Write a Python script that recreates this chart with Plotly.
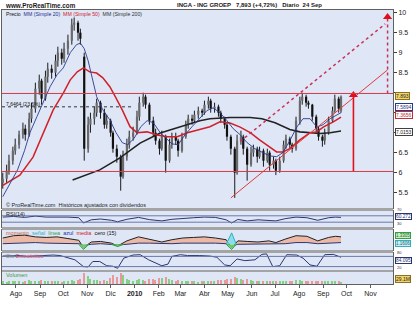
import plotly.graph_objects as go
import pandas as pd

FONT = "Liberation Sans, Arial, sans-serif"

# ---------------- price data (one candle every 3 trading days) ----------------
opens = [
    5.75, 5.85, 6.05, 6.30, 6.55, 6.70, 6.95, 7.10, 6.95, 7.35,
    7.60, 8.10, 8.30, 7.85, 8.40, 8.60, 8.50, 8.80, 9.00, 8.85,
    9.10, 9.30, 9.70, 9.75, 9.50, 8.90, 6.60, 7.20, 7.35, 7.50,
    7.75, 7.50, 7.20, 7.30, 7.00, 6.60, 6.40, 5.90, 6.40, 6.70,
    6.90, 7.00, 7.40, 7.75, 7.90, 7.70, 7.30, 7.00, 6.80, 6.60,
    6.90, 6.30, 6.70, 6.90, 6.80, 6.55, 6.90, 7.20, 7.35, 7.30,
    7.45, 7.55, 7.50, 7.70, 7.80, 7.60, 7.65, 7.50, 7.35, 7.20,
    6.90, 6.60, 6.00, 6.80, 6.90, 6.60, 6.20, 6.50, 6.60, 6.40,
    6.55, 6.30, 6.50, 6.20, 6.30, 6.05, 6.30, 6.70, 6.85, 6.70,
    6.60, 7.30, 7.80, 7.90, 7.75, 7.70, 7.40, 7.10, 6.90, 6.80,
    7.00, 7.30, 7.55, 7.85, 7.55]
highs = [
    6.00, 6.20, 6.45, 6.65, 6.85, 7.05, 7.25, 7.20, 7.50, 7.75,
    8.25, 8.45, 8.35, 8.55, 8.75, 8.70, 8.95, 9.15, 9.10, 9.25,
    9.45, 9.85, 9.88, 9.80, 9.60, 9.00, 7.40, 7.50, 7.65, 7.85,
    7.80, 7.60, 7.45, 7.35, 7.05, 6.70, 6.45, 6.55, 6.85, 7.05,
    7.15, 7.55, 7.90, 8.00, 7.95, 7.75, 7.40, 7.10, 6.85, 7.05,
    6.95, 6.85, 7.00, 7.00, 6.85, 7.00, 7.30, 7.45, 7.45, 7.55,
    7.65, 7.60, 7.80, 7.90, 7.85, 7.75, 7.70, 7.55, 7.40, 7.25,
    6.95, 6.65, 6.95, 7.05, 6.95, 6.65, 6.65, 6.70, 6.65, 6.65,
    6.60, 6.60, 6.55, 6.40, 6.35, 6.40, 6.80, 6.95, 6.90, 6.75,
    7.40, 7.90, 8.00, 7.95, 7.80, 7.72, 7.45, 7.15, 6.95, 7.10,
    7.40, 7.65, 7.95, 7.90, 7.93]
lows = [
    5.60, 5.75, 5.95, 6.20, 6.45, 6.60, 6.85, 6.80, 6.90, 7.25,
    7.50, 7.95, 7.70, 7.80, 8.25, 8.35, 8.40, 8.65, 8.70, 8.75,
    8.95, 9.20, 9.55, 9.30, 9.20, 6.30, 6.50, 7.00, 7.20, 7.40,
    7.35, 7.10, 7.10, 6.90, 6.50, 6.25, 5.55, 5.85, 6.30, 6.60,
    6.80, 6.95, 7.30, 7.65, 7.60, 7.20, 6.90, 6.70, 6.45, 6.55,
    6.00, 6.25, 6.60, 6.70, 6.40, 6.50, 6.85, 7.10, 7.20, 7.25,
    7.35, 7.40, 7.45, 7.60, 7.50, 7.50, 7.40, 7.25, 7.10, 6.80,
    6.45, 5.37, 5.95, 6.70, 6.45, 5.80, 6.15, 6.40, 6.25, 6.35,
    6.15, 6.25, 6.05, 6.10, 5.94, 6.00, 6.25, 6.60, 6.60, 6.50,
    6.55, 7.20, 7.70, 7.65, 7.60, 7.30, 7.00, 6.80, 6.65, 6.70,
    6.95, 7.25, 7.50, 7.50, 7.50]
closes = [
    5.85, 6.05, 6.30, 6.55, 6.70, 6.95, 7.10, 6.95, 7.35, 7.60,
    8.10, 8.30, 7.85, 8.40, 8.60, 8.50, 8.80, 9.00, 8.85, 9.10,
    9.30, 9.70, 9.75, 9.50, 9.35, 6.60, 7.20, 7.35, 7.50, 7.75,
    7.50, 7.20, 7.30, 7.00, 6.60, 6.40, 5.90, 6.40, 6.70, 6.90,
    7.00, 7.40, 7.75, 7.90, 7.70, 7.30, 7.00, 6.80, 6.60, 6.90,
    6.30, 6.70, 6.90, 6.80, 6.55, 6.90, 7.20, 7.35, 7.30, 7.45,
    7.55, 7.50, 7.70, 7.80, 7.60, 7.65, 7.50, 7.35, 7.20, 6.90,
    6.60, 6.00, 6.80, 6.90, 6.60, 6.20, 6.50, 6.60, 6.40, 6.55,
    6.30, 6.50, 6.20, 6.30, 6.05, 6.30, 6.70, 6.85, 6.70, 6.60,
    7.30, 7.80, 7.90, 7.75, 7.70, 7.40, 7.10, 6.90, 6.80, 7.00,
    7.30, 7.55, 7.85, 7.60, 7.893]
volumes_m = [
    40, 35, 45, 38, 42, 50, 36, 40, 55, 48,
    52, 45, 60, 42, 38, 44, 40, 47, 35, 39,
    42, 55, 48, 60, 70, 170, 120, 80, 60, 55,
    50, 65, 45, 90, 130, 110, 160, 140, 70, 60,
    45, 55, 70, 65, 50, 75, 80, 60, 90, 85,
    100, 70, 55, 45, 60, 50, 40, 45, 38, 42,
    35, 40, 45, 38, 40, 48, 55, 60, 65, 70,
    80, 110, 85, 70, 65, 75, 55, 50, 48, 45,
    50, 42, 48, 40, 45, 38, 50, 45, 40, 42,
    60, 55, 50, 45, 40, 42, 48, 52, 45, 40,
    38, 42, 45, 40, 29.1]

# ---------------- moving averages ----------------
sma20_dates = ['2009-07-15','2009-07-24','2009-08-03','2009-08-12','2009-08-19','2009-08-28','2009-09-05',
               '2009-09-14','2009-09-23','2009-10-01','2009-10-10','2009-10-18','2009-10-23','2009-10-28',
               '2009-11-02','2009-11-08','2009-11-13','2009-11-21','2009-11-30','2009-12-08','2009-12-16',
               '2009-12-23','2009-12-31','2010-01-09','2010-01-17','2010-01-25','2010-02-03','2010-02-11',
               '2010-02-18','2010-02-26','2010-03-07','2010-03-16','2010-03-26','2010-04-04','2010-04-12',
               '2010-04-21','2010-04-30','2010-05-08','2010-05-17','2010-05-26','2010-06-05','2010-06-15',
               '2010-06-24','2010-07-03','2010-07-11','2010-07-20','2010-07-29','2010-08-06','2010-08-15',
               '2010-08-24','2010-09-01','2010-09-10','2010-09-24']
sma20 = [5.40, 5.70, 6.07, 6.55, 7.00, 7.40, 7.74, 8.15, 8.45, 8.62, 9.00, 9.20, 9.24, 9.10,
         8.80, 8.32, 7.90, 7.57, 7.32, 7.00, 6.75, 6.70, 6.85, 7.15, 7.30, 7.25, 7.00, 6.85,
         6.72, 6.70, 6.95, 7.15, 7.35, 7.55, 7.62, 7.50, 7.30, 7.10, 6.95, 6.75, 6.60, 6.50,
         6.42, 6.40, 6.50, 6.80, 7.14, 7.35, 7.35, 7.14, 7.20, 7.35, 7.50]

sma50_dates = ['2009-07-15','2009-08-06','2009-08-23','2009-09-05','2009-09-18','2009-10-01','2009-10-10',
               '2009-10-19','2009-10-27','2009-11-04','2009-11-13','2009-11-21','2009-11-30','2009-12-07',
               '2009-12-16','2009-12-26','2010-01-04','2010-01-17','2010-01-30','2010-02-12','2010-02-25',
               '2010-03-10','2010-03-26','2010-04-08','2010-04-21','2010-05-04','2010-05-17','2010-05-30',
               '2010-06-11','2010-06-24','2010-07-03','2010-07-11','2010-07-20','2010-08-02','2010-08-15',
               '2010-08-24','2010-09-01','2010-09-14','2010-09-24']
sma50 = [5.68, 5.94, 6.39, 6.99, 7.57, 7.99, 8.32, 8.52, 8.62, 8.52, 8.49, 8.37, 8.15, 7.90,
         7.57, 7.15, 7.00, 7.02, 6.94, 6.90, 6.90, 7.00, 7.08, 7.15, 7.27, 7.24, 7.14, 7.00,
         6.82, 6.65, 6.52, 6.52, 6.60, 6.82, 7.00, 7.02, 7.14, 7.27, 7.39]

sma200_dates = ['2009-10-13','2009-10-30','2009-11-17','2009-12-13','2010-01-08','2010-02-03','2010-03-01',
                '2010-03-26','2010-04-08','2010-05-04','2010-05-30','2010-06-14','2010-07-01','2010-07-20',
                '2010-08-02','2010-08-28','2010-09-10','2010-09-24']
sma200 = [5.82, 5.95, 6.07, 6.37, 6.74, 6.99, 7.15, 7.30, 7.35, 7.38, 7.38, 7.35, 7.25, 7.08,
          7.02, 6.98, 7.00, 7.04]

# ---------------- drawn levels ----------------
resistance = 7.98
support = 6.03
target = 9.93
fib_level = 7.6464
fib_end = '2009-12-30'
trend_dates = ['2010-05-05', '2010-11-23']
trend_vals = [5.37, 8.57]
channel_dates = ['2010-05-17', '2010-11-20']
channel_vals = [6.78, 9.72]
arrow_date = '2010-10-10'
target_date = '2010-11-23'

# ---------------- indicators ----------------
ind_dates = ['2009-07-15','2009-07-29','2009-08-12','2009-08-26','2009-09-09','2009-09-23','2009-10-07',
             '2009-10-21','2009-10-27','2009-11-06','2009-11-18','2009-12-02','2009-12-10','2009-12-22',
             '2010-01-06','2010-01-20','2010-02-05','2010-02-18','2010-03-04','2010-03-18','2010-04-01',
             '2010-04-15','2010-04-29','2010-05-06','2010-05-14','2010-05-26','2010-06-09','2010-06-23',
             '2010-07-02','2010-07-14','2010-07-28','2010-08-11','2010-08-25','2010-09-08','2010-09-17',
             '2010-09-24']
rsi = [62, 66, 60, 68, 62, 64, 62, 58, 25, 45, 50, 42, 33, 48, 60, 46, 38, 48, 55, 58, 62,
       60, 45, 25, 47, 38, 45, 42, 38, 52, 62, 58, 42, 58, 62, 60.27]
osc_line = [1.1, 1.5, 1.6, 1.3, 1.2, 1.3, 1.0, 0.7, -0.6, 0.4, 0.5, 0.2, -0.3, 0.6, 1.3,
            0.9, 0.4, 0.8, 1.1, 1.2, 1.3, 1.1, 0.8, -0.6, 0.6, 0.5, 0.4, 0.6, 0.3, 0.9,
            1.5, 1.4, 0.6, 1.2, 1.4, 1.3]
osc_base = [0.1, 0.2, 0.3, 0.3, 0.2, 0.2, 0.2, 0.1, -0.2, 0.0, 0.1, 0.0, -0.1, 0.0, 0.2,
            0.2, 0.1, 0.1, 0.2, 0.2, 0.3, 0.2, 0.1, -0.3, 0.0, 0.0, 0.0, 0.1, 0.0, 0.1,
            0.3, 0.3, 0.1, 0.2, 0.3, 0.3]
green_dates = ['2009-10-21', '2009-10-27', '2009-11-03', None, '2009-12-02', '2009-12-10', '2009-12-18',
               None, '2010-04-29', '2010-05-06', '2010-05-12']
green_vals = [0, -0.9, 0, None, 0, -0.4, 0, None, 0, -0.9, 0]
cyan_dates = ['2010-04-29', '2010-05-06', '2010-05-12']
cyan_vals = [0, 2.0, 0]

stoch_dates = ['2009-07-15','2009-07-24','2009-08-06','2009-08-15','2009-08-26','2009-09-08','2009-09-18',
               '2009-09-27','2009-10-06','2009-10-16','2009-10-27','2009-11-02','2009-11-08','2009-11-17',
               '2009-11-26','2009-12-04','2009-12-10','2009-12-18','2009-12-30','2010-01-08','2010-01-19',
               '2010-01-30','2010-02-05','2010-02-13','2010-02-18','2010-03-01','2010-03-10','2010-03-26',
               '2010-04-08','2010-04-17','2010-04-27','2010-05-04','2010-05-13','2010-05-23','2010-06-05',
               '2010-06-14','2010-06-20','2010-06-28','2010-07-07','2010-07-16','2010-07-29','2010-08-06',
               '2010-08-15','2010-08-24','2010-09-03','2010-09-14','2010-09-24']
stoch = [82, 85, 85, 80, 82, 85, 88, 85, 75, 60, 20, 18, 50, 50, 25, 22, 10, 70, 88, 90,
         60, 35, 25, 35, 80, 90, 85, 85, 82, 75, 30, 25, 65, 55, 60, 92, 95, 20, 25, 90,
         88, 70, 30, 22, 90, 92, 75]

month_ticks = ['2009-08-01','2009-09-01','2009-10-01','2009-11-01','2009-12-01','2010-01-01','2010-02-01',
               '2010-03-01','2010-04-01','2010-05-01','2010-06-01','2010-07-01','2010-08-01','2010-09-01',
               '2010-10-01','2010-11-01']
month_labels = ['Ago','Sep','Oct','Nov','Dic','<b>2010</b>','Feb','Mar','Abr','May','Jun','Jul','Ago',
                'Sep','Oct','Nov']
price_ticks = [5.5, 6, 6.5, 7, 7.5, 8, 8.5, 9, 9.5, 10]
# 7, 7.5 and 8 are covered by the value boxes in the original
price_tick_text = ['5.5', '6', '6.5', '', '', '', '8.5', '9', '9.5', '10']

# ---------------- build figure ----------------
all_days = pd.bdate_range('2009-07-14', '2010-09-24')
n = len(closes)
candle_dates = list(all_days[::-1][::3][:n][::-1])

W, H = 420, 315
ML, MR, MT, MB = 2, 27, 10, 31
PW, PH = W - ML - MR, H - MT - MB


def py(ypix):
    return (H - MB - ypix) / PH


def px(xpix):
    return (xpix - ML) / PW


fig = go.Figure()

# candles
wx, wy = [], []
ux, uy, dx, dy = [], [], [], []
for d, o, h, l, c in zip(candle_dates, opens, highs, lows, closes):
    wx += [d, d, None]
    wy += [l, h, None]
    if c >= o:
        ux += [d, d, None]; uy += [o, c, None]
    else:
        dx += [d, d, None]; dy += [o, c, None]
fig.add_trace(go.Scatter(x=wx, y=wy, mode='lines', line=dict(color='#1a1a1a', width=1), hoverinfo='skip'))
fig.add_trace(go.Scatter(x=ux, y=uy, mode='lines', line=dict(color='#6a6a6a', width=2.2), hoverinfo='skip'))
fig.add_trace(go.Scatter(x=dx, y=dy, mode='lines', line=dict(color='#111111', width=2.2), hoverinfo='skip'))

# moving averages
fig.add_trace(go.Scatter(x=sma200_dates, y=sma200, mode='lines', line=dict(color='#222222', width=1.6)))
fig.add_trace(go.Scatter(x=sma50_dates, y=sma50, mode='lines', line=dict(color='#d0202a', width=1.5)))
fig.add_trace(go.Scatter(x=sma20_dates, y=sma20, mode='lines', line=dict(color='#2a3a8a', width=0.9)))

# trend lines / arrows
fig.add_trace(go.Scatter(x=trend_dates, y=trend_vals, mode='lines', line=dict(color='#e03a3a', width=1)))
fig.add_trace(go.Scatter(x=channel_dates, y=channel_vals, mode='lines',
                         line=dict(color='#c8325a', width=1.5, dash='dot')))
fig.add_trace(go.Scatter(x=[arrow_date, arrow_date], y=[support, resistance - 0.08], mode='lines',
                         line=dict(color='#e0101a', width=1.6)))
fig.add_trace(go.Scatter(x=[arrow_date], y=[resistance - 0.04], mode='markers',
                         marker=dict(symbol='triangle-up', size=8, color='#e0101a')))
fig.add_trace(go.Scatter(x=[target_date, target_date], y=[resistance, target - 0.08], mode='lines',
                         line=dict(color='#c8325a', width=1.5, dash='dot')))
fig.add_trace(go.Scatter(x=[target_date], y=[target - 0.04], mode='markers',
                         marker=dict(symbol='triangle-up', size=8, color='#e0101a')))

# RSI
fig.add_trace(go.Scatter(x=ind_dates, y=rsi, mode='lines', line=dict(color='#2a3570', width=1),
                         xaxis='x2', yaxis='y2'))
# oscillator
fig.add_trace(go.Scatter(x=ind_dates, y=osc_base, mode='lines', line=dict(color='#2a3570', width=1),
                         xaxis='x3', yaxis='y3'))
fig.add_trace(go.Scatter(x=ind_dates, y=osc_line, mode='lines', line=dict(color='#222222', width=1),
                         fill='tonexty', fillcolor='rgba(240,170,140,0.75)', xaxis='x3', yaxis='y3'))
fig.add_trace(go.Scatter(x=cyan_dates, y=cyan_vals, mode='lines', line=dict(color='#30b0c0', width=1),
                         fill='tozeroy', fillcolor='rgba(120,220,230,0.8)', xaxis='x3', yaxis='y3'))
fig.add_trace(go.Scatter(x=green_dates, y=green_vals, mode='lines', line=dict(color='#30a040', width=1),
                         fill='tozeroy', fillcolor='rgba(120,220,120,0.8)', xaxis='x3', yaxis='y3',
                         connectgaps=False))
# stochastic
fig.add_trace(go.Scatter(x=stoch_dates, y=stoch, mode='lines', line=dict(color='#2a3570', width=1),
                         xaxis='x4', yaxis='y4'))
# volume
vol_colors = ['#86d086' if c >= o else '#e89a9a' for o, c in zip(opens, closes)]
fig.add_trace(go.Bar(x=candle_dates, y=volumes_m, marker=dict(color=vol_colors, line=dict(width=0)),
                     width=1.6 * 86400000, xaxis='x5', yaxis='y5'))

xcommon = dict(type='date', range=['2009-07-14', '2010-11-30'], showgrid=False, zeroline=False,
               showline=True, linecolor='#606060', linewidth=1, mirror=True)
ycommon = dict(showgrid=False, zeroline=False, showline=True, linecolor='#606060', linewidth=1,
               mirror=True, fixedrange=True)

doms = {
    'y': [py(208), py(10)],
    'y2': [py(227), py(211)],
    'y3': [py(250), py(230)],
    'y4': [py(270), py(253)],
    'y5': [py(284), py(272)],
}

fig.update_layout(
    width=W, height=H, margin=dict(l=ML, r=MR, t=MT, b=MB), autosize=False,
    paper_bgcolor='white', plot_bgcolor='#dfe7f7', showlegend=False,
    font=dict(family=FONT, size=7, color='#111'),
    bargap=0,
    xaxis=dict(**xcommon, anchor='y', showticklabels=False, ticks=''),
    xaxis2=dict(**xcommon, anchor='y2', matches='x', showticklabels=False, ticks=''),
    xaxis3=dict(**xcommon, anchor='y3', matches='x', showticklabels=False, ticks=''),
    xaxis4=dict(**xcommon, anchor='y4', matches='x', showticklabels=False, ticks=''),
    xaxis5=dict(**xcommon, anchor='y5', matches='x', tickvals=month_ticks, ticktext=month_labels,
                ticks='outside', ticklen=3, tickcolor='#606060', tickfont=dict(size=7, color='#222')),
    yaxis=dict(**ycommon, domain=doms['y'], range=[5.117, 10.067], side='right', tickvals=price_ticks,
               ticktext=price_tick_text, ticks='outside', ticklen=3, tickcolor='#404040',
               tickfont=dict(size=7, color='#222')),
    yaxis2=dict(**ycommon, domain=doms['y2'], range=[0, 100], showticklabels=False, side='right'),
    yaxis3=dict(**ycommon, domain=doms['y3'], range=[-1, 2.5], showticklabels=False, side='right'),
    yaxis4=dict(**ycommon, domain=doms['y4'], range=[0, 100], showticklabels=False, side='right'),
    yaxis5=dict(**ycommon, domain=doms['y5'], range=[0, 180], showticklabels=False, side='right'),
)

shapes = []
# separator bands between panels
for top, bot in [(208, 211), (227, 230), (250, 253), (270, 272)]:
    shapes.append(dict(type='rect', xref='paper', yref='paper', x0=0, x1=1, y0=py(bot), y1=py(top),
                       fillcolor='#a4a4a4', line=dict(width=0), layer='above'))
# horizontal red levels
for lvl in [resistance, support]:
    shapes.append(dict(type='line', xref='paper', yref='y', x0=0, x1=1, y0=lvl, y1=lvl,
                       line=dict(color='#d83a4a', width=1)))
# fibonacci dotted level
shapes.append(dict(type='line', xref='x', yref='y', x0='2009-07-14', x1=fib_end, y0=fib_level, y1=fib_level,
                   line=dict(color='#333', width=1, dash='dot')))
# RSI & stochastic guide lines
for lvl in [70, 30]:
    shapes.append(dict(type='line', xref='paper', yref='y2', x0=0, x1=1, y0=lvl, y1=lvl,
                       line=dict(color='#6a78a8', width=1)))
for lvl in [80, 20]:
    shapes.append(dict(type='line', xref='paper', yref='y4', x0=0, x1=1, y0=lvl, y1=lvl,
                       line=dict(color='#6a78a8', width=1)))
fig.update_layout(shapes=shapes)

ann = []


def text(x, y, s, size=6, color='#111', xanchor='left', yanchor='middle', **kw):
    ann.append(dict(xref='paper', yref='paper', x=x, y=y, text=s, showarrow=False, xanchor=xanchor,
                    yanchor=yanchor, font=dict(size=size, color=color, family=FONT), **kw))


text(px(3), py(5), '<b>www.ProRealTime.com</b>', size=6.3, color='#1a1a1a')
text(px(175), py(5), '<b>INGA - ING GROEP   7,893 (+4,72%)   Diario  24 Sep</b>', size=6, color='#1a1a1a')
text(px(4), py(14), 'Precio  <span style="color:#1e2e8a">MM (Simple 20)</span>  '
     '<span style="color:#d0202a">MM (Simple 50)</span>  <span style="color:#333">MM (Simple 200)</span>',
     size=5.2)
text(px(4), py(104), '7,6464 (23,6%)', size=5)
text(px(4), py(205), '© ProRealTime.com  Históricos ajustados con dividendos', size=5.5, color='#222')
text(px(4), py(214), 'RSI(14)', size=5.5, color='#222')
text(px(4), py(233), '<span style="color:#d06040">momento</span>  <span style="color:#30b0c0">señal</span>  '
     '<span style="color:#30a040">línea</span>  <span style="color:#2030a0">azul</span>  '
     '<span style="color:#d0202a">media</span>  cero (15)', size=5.5)
text(px(4), py(256), '<span style="color:#888">Stc</span> <span style="color:#d05070">Estocástico</span>',
     size=5.5)
text(px(4), py(275), 'Volumen', size=5.5, color='#3a9a3a')


def box(y, s, bg, border, color, yref='paper', size=5):
    ann.append(dict(xref='paper', yref=yref, x=1.004, y=y, text=s, showarrow=False, xanchor='left',
                    yanchor='middle', font=dict(size=size, color=color, family=FONT), bgcolor=bg,
                    bordercolor=border, borderwidth=1, borderpad=0))


box(7.905, '7.893', '#f2d66a', '#8a7020', '#222', yref='y')
box(7.642, '7.5894', '#ffffff', '#2a3a8a', '#2a3a8a', yref='y')
box(7.43, '7.3656', '#ffffff', '#c03030', '#c03030', yref='y')
box(7.017, '7.0153', '#ffffff', '#404040', '#222', yref='y')
box(py(216), '60.272', '#ffffff', '#2a3570', '#2a3570', size=4.8)
box(py(235), '1.3305', '#c8f0c8', '#30a040', '#206020', size=4.5)
box(py(243), '1.1606', '#c8f0f4', '#30b0c0', '#206070', size=4.5)
box(py(260), '84.095', '#ffffff', '#2a3570', '#2a3570', size=4.8)
box(py(279), '29.1M', '#f2d66a', '#8a7020', '#222', size=5)
text(1.004, py(209.3), '70', size=4, color='#333')
text(1.004, py(223.2), '30', size=4, color='#333')
text(1.004, py(252.3), '80', size=4, color='#333')
text(1.004, py(267.3), '20', size=4, color='#333')

fig.update_layout(annotations=ann)
fig.write_html('out.html')
